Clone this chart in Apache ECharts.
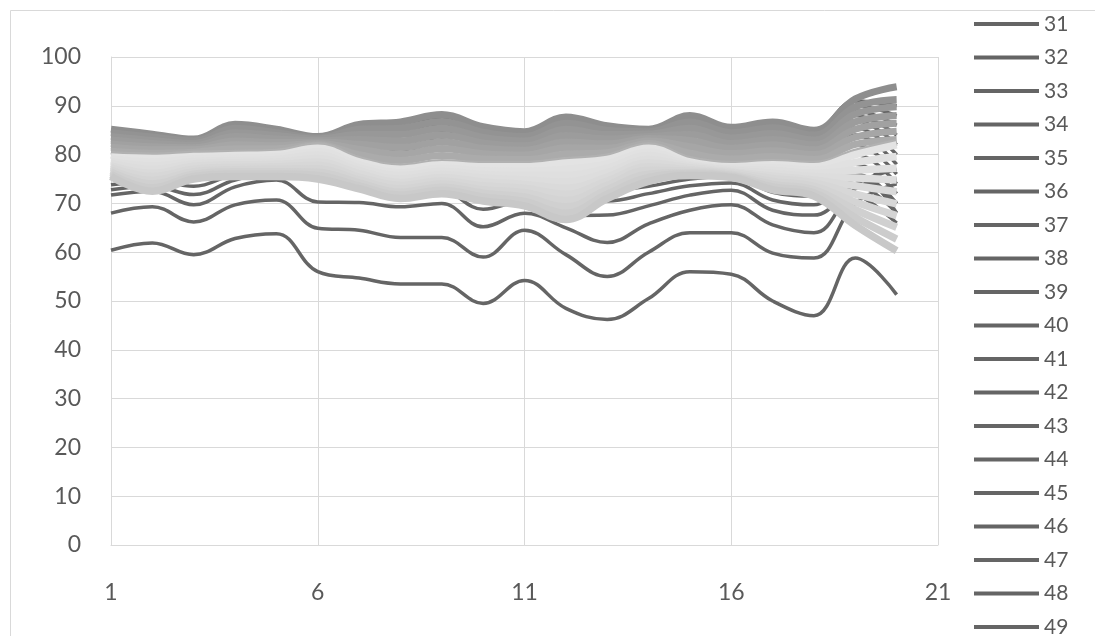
<!DOCTYPE html>
<html><head><meta charset="utf-8">
<script src="https://cdn.jsdelivr.net/npm/echarts@6/dist/echarts.min.js"></script>
<style>html,body{margin:0;padding:0;background:#fff}#c{width:1095px;height:636px}</style>
</head><body><div id="c"></div>
<script>
// x positions (categories)
const xValues = [1,2,3,4,5,6,7,8,9,10,11,12,13,14,15,16,17,18,19,20];
// axis ranges
const xRange = [1, 21, 5];
const yRange = [0, 100, 10];

// series 31-49 (dark)
const s31 = [60.4,61.9,59.5,62.8,63.8,56,54.7,53.5,53.5,49.5,54.2,48.5,46.2,50.5,56,55.5,50,47,58.8,51.3];
const s32 = [68,69.3,66.2,69.7,70.7,64.9,64.5,63,63,59,64.5,59.5,55,60,64,64,59.8,58.8,70,74];
const s33 = [71.7,72.5,69.7,73.4,74.8,70.3,70.2,69.3,70,65.2,68,65,62,65.8,68.6,69.7,65.6,64,73,75];
const s34 = [72.8,73.5,71.8,74.8,76,74.8,73.2,71.5,72.5,68.8,70.5,67.5,67.6,69.5,71.7,72.7,68.6,67.6,74,77];
const s35 = [73.8,74.5,73.5,76,77,75.5,74,72.5,73.5,71,73,70.5,70.5,72,73.6,74.2,70.7,69.7,75,70];
const s36 = [75,75.5,74.8,77,78,76.5,75,73.5,74.5,73,74.5,72,72.5,73.5,75,75.5,72.3,71.5,76,68];
const s37 = [76.5,76,76.5,77.5,78,77.5,76,74.5,75,73,72.5,72,74,76.5,76.5,76,74.5,73.5,72,66];
const s38 = [77.5,77,77.5,78.5,79,79,77,75.5,76,74.5,74,74,75.5,78,77,76.5,75.5,74.5,74,68];
const s39 = [78.5,78,78.5,79.5,79.5,80,78,76.5,77,76,75.5,76,77,79.5,77.5,77,76.5,75.5,76,70];
const s40 = [79.5,79,79.5,80.5,80.5,81,79,77.5,78.5,77.5,77,78,78.5,81,78.5,78,78,77,78,72];
const s41 = [80.5,80,80.5,81.5,81.5,81.5,80.5,79,80,79,78.5,80,80,82,80,79,79.5,78.5,80,74];
const s42 = [81.5,81,81,82.5,82,82,81.5,80.5,81.5,80,79.5,81.5,81,82.5,81.5,80.5,80.5,79.5,82,76];
const s43 = [82,81.5,81.5,83,82.5,82.5,82.5,82,83,81,80.5,82.5,82,83,83,81.5,81.5,80.5,84,78];
const s44 = [82.5,82,82,83.5,83,83,83.5,83,84,82,81.5,83.5,83,83.5,84,82.5,82.5,81.5,85.5,80];
const s45 = [83,82.5,82.5,84,83.5,83.2,84,84,85,83,82.5,84.5,83.5,84,85,83.5,83.5,82.5,87,82];
const s46 = [83.5,83,82.8,84.5,84,83.5,84.5,85,86,84,83,85.5,84,84.3,86,84,84.5,83.5,88,84];
const s47 = [84,83.5,83,85,84.5,83.4,85,85.5,87,84.5,83.5,86.5,84.5,84.6,87,84.5,85.5,84,89,86];
const s48 = [84.5,84,83.3,85.5,85,83.5,85.5,86,87.5,85,84,87,85,85,87.5,85,86,84.5,90,88];
const s49 = [85,84.2,83.2,86,85.2,83.7,86,86.5,88,85.5,84.5,87.5,85.5,85.2,88,85.3,86.5,85,91,90];
// series 50-57 (medium grey band)
const s50 = [85.2,84.2,83.2,86.2,85.2,83.7,86.2,86.7,88.2,85.7,84.7,87.7,85.9,85.2,88.0,85.6,86.7,85.0,91.4,93.9];
const s51 = [84.5,83.6,82.8,85.4,84.5,83.4,85.2,85.4,86.8,84.6,83.7,86.4,85.0,84.7,86.7,84.5,85.5,84.0,89.8,91.3];
const s52 = [83.7,82.9,82.3,84.5,83.9,83.2,84.1,84.1,85.4,83.5,82.8,85.2,84.1,84.2,85.4,83.4,84.3,83.0,88.3,89.8];
const s53 = [83.0,82.3,81.9,83.7,83.2,82.9,83.1,82.8,84.0,82.4,81.8,83.9,83.2,83.7,84.1,82.3,83.1,82.0,86.7,88.0];
const s54 = [82.2,81.6,81.4,82.8,82.5,82.6,82.1,81.5,82.6,81.3,80.9,82.6,82.2,83.3,82.9,81.3,82.0,81.0,85.2,86.4];
const s55 = [81.5,81.0,81.0,82.0,81.8,82.3,81.1,80.1,81.2,80.2,79.9,81.4,81.3,82.8,81.6,80.2,80.8,80.0,83.6,84.8];
const s56 = [80.7,80.3,80.5,81.2,81.2,82.0,80.0,78.8,79.8,79.1,79.0,80.1,80.4,82.3,80.3,79.1,79.6,79.0,82.1,83.1];
const s57 = [80.0,79.7,80.1,80.3,80.5,81.8,79.0,77.5,78.4,78.0,78.0,78.8,79.5,81.8,79.0,78.0,78.4,78.0,80.5,82.5];
// series 58-67 (light grey band)
const s58 = [79.5,79.2,79.6,79.8,80.0,81.3,78.5,77.0,77.9,77.5,77.5,78.3,79.0,81.3,78.5,77.5,77.9,77.5,80.0,82.0];
const s59 = [79.1,78.5,79.1,79.3,79.5,80.6,77.9,76.3,77.2,76.7,76.6,77.0,78.1,80.5,78.2,77.3,77.3,76.8,78.4,79.6];
const s60 = [78.6,77.7,78.6,78.8,79.0,79.9,77.3,75.7,76.6,75.9,75.7,75.7,77.2,79.8,77.9,77.0,76.8,76.2,76.8,77.2];
const s61 = [78.2,77.0,78.1,78.4,78.5,79.2,76.7,75.0,75.9,75.2,74.8,74.4,76.3,79.0,77.6,76.8,76.2,75.5,75.2,74.8];
const s62 = [77.7,76.2,77.6,77.9,78.0,78.5,76.1,74.3,75.3,74.4,73.9,73.1,75.4,78.3,77.3,76.5,75.6,74.8,73.6,72.4];
const s63 = [77.3,75.5,77.0,77.4,77.5,77.8,75.4,73.7,74.6,73.6,73.1,71.9,74.6,77.5,76.9,76.3,75.1,74.2,71.9,69.9];
const s64 = [76.8,74.7,76.5,76.9,77.0,77.1,74.8,73.0,74.0,72.8,72.2,70.6,73.7,76.8,76.6,76.0,74.5,73.5,70.3,67.5];
const s65 = [76.4,74.0,76.0,76.5,76.5,76.4,74.2,72.3,73.3,72.1,71.3,69.3,72.8,76.0,76.3,75.8,73.9,72.8,68.7,65.1];
const s66 = [75.9,73.2,75.5,76.0,76.0,75.7,73.6,71.7,72.7,71.3,70.4,68.0,71.9,75.3,76.0,75.5,73.4,72.2,67.1,62.7];
const s67 = [75.5,72.5,75.0,75.5,75.5,75.0,73.0,71.0,72.0,70.5,69.5,66.7,71.0,74.5,75.7,75.3,72.8,71.5,65.5,60.3];

const seriesValues = [s31,s32,s33,s34,s35,s36,s37,s38,s39,s40,s41,s42,s43,s44,s45,s46,s47,s48,s49,
  s50,s51,s52,s53,s54,s55,s56,s57,s58,s59,s60,s61,s62,s63,s64,s65,s66,s67];
const seriesNames = seriesValues.map((_, i) => String(31 + i));

// styles
const darkColor = '#656565';
const mediumColors = ['#8e8e8e','#939393','#989898','#9c9c9c','#a1a1a1','#a6a6a6','#ababab','#b1b1b1'];
const lightColors = ['#e3e3e3','#e1e1e1','#dfdfdf','#dddddd','#dadada','#d7d7d7','#d4d4d4','#d0d0d0','#cccccc','#c8c8c8'];
function styleFor(i) {
  if (i < 19) return { color: darkColor, width: 3.5 };
  if (i < 27) return { color: mediumColors[i - 19], width: 7 };
  return { color: lightColors[i - 27], width: 7.5 };
}

const FONT = 'Lato, "Noto Sans", sans-serif';
const chart = echarts.init(document.getElementById('c'), null, { renderer: 'canvas' });
chart.setOption({
  animation: false,
  backgroundColor: '#ffffff',
  graphic: [{
    type: 'rect', silent: true, z: -10,
    shape: { x: 10.5, y: 10.5, width: 1200, height: 800 },
    style: { fill: 'none', stroke: '#d9d9d9', lineWidth: 1 }
  }],
  grid: { left: 111, right: 157, top: 57, bottom: 91, containLabel: false },
  legend: {
    orient: 'vertical', left: 974, top: 13.5, height: 3000, padding: 0,
    icon: 'rect', itemWidth: 65, itemHeight: 4, itemGap: 12.5,
    data: seriesNames,
    textStyle: { fontFamily: FONT, fontSize: 21, color: '#595959' }
  },
  xAxis: {
    type: 'value', min: xRange[0], max: xRange[1], interval: xRange[2],
    axisLine: { show: true, lineStyle: { color: '#d9d9d9', width: 1 } },
    axisTick: { show: false },
    splitLine: { show: true, lineStyle: { color: '#d9d9d9', width: 1 } },
    axisLabel: { fontFamily: FONT, fontSize: 23, color: '#595959', margin: 36 }
  },
  yAxis: {
    type: 'value', min: yRange[0], max: yRange[1], interval: yRange[2],
    axisLine: { show: true, lineStyle: { color: '#d9d9d9', width: 1 } },
    axisTick: { show: false },
    splitLine: { show: true, lineStyle: { color: '#d9d9d9', width: 1 } },
    axisLabel: { fontFamily: FONT, fontSize: 23, color: '#595959', margin: 30 }
  },
  series: seriesValues.map((vals, i) => {
    const st = styleFor(i);
    return {
      name: seriesNames[i], type: 'line', smooth: 0.4, symbol: 'none',
      data: xValues.map((x, k) => [x, vals[k]]),
      color: st.color,
      lineStyle: { color: st.color, width: st.width },
      itemStyle: { color: st.color },
      emphasis: { disabled: true }
    };
  })
});
</script>
</body></html>
